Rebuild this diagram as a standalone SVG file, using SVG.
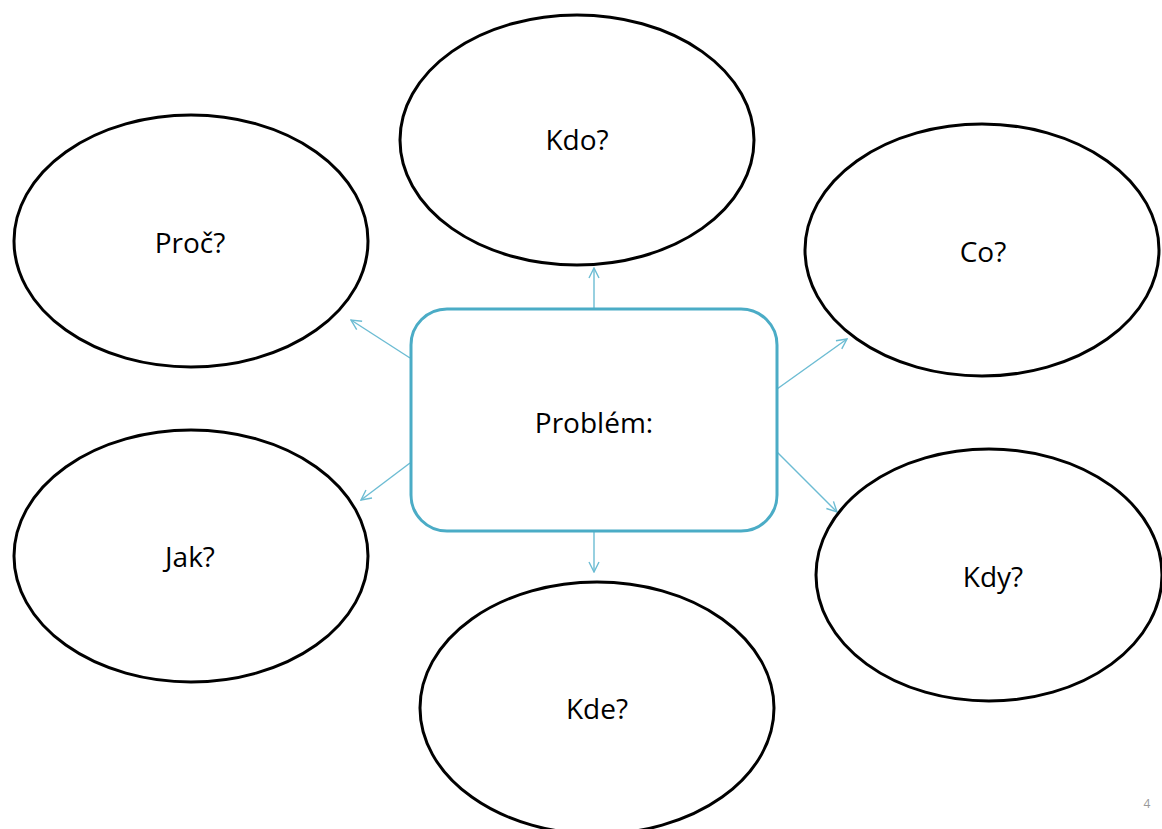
<svg xmlns="http://www.w3.org/2000/svg" width="1162" height="829" viewBox="0 0 1162 829">
<defs>
<style>
.oval{fill:#fff;stroke:#000;stroke-width:3}
.lbl{font-family:"Open Sans","Liberation Sans",sans-serif;font-size:28px;fill:#000;text-anchor:middle}
.con{stroke:#6CBCD3;stroke-width:1.4;fill:none;marker-end:url(#ah)}
</style>
<marker id="ah" viewBox="0 0 12 12" refX="11" refY="6" markerWidth="12" markerHeight="12" markerUnits="userSpaceOnUse" orient="auto">
<path d="M1,1 L11,6 L1,11" fill="none" stroke="#6CBCD3" stroke-width="1.4"/>
</marker>
</defs>
<rect width="1162" height="829" fill="#fff"/>
<g id="connectors">
<line class="con" x1="594" y1="308" x2="594" y2="268"/>
<line class="con" x1="594" y1="532" x2="594" y2="572"/>
<line class="con" x1="410" y1="358" x2="351" y2="320"/>
<line class="con" x1="410" y1="463" x2="361" y2="500"/>
<line class="con" x1="777" y1="389" x2="847" y2="339"/>
<line class="con" x1="777" y1="452" x2="837" y2="512"/>
</g>
<g id="kdo"><ellipse class="oval" cx="577" cy="140" rx="177" ry="125"/><text class="lbl" x="577" y="150">Kdo?</text></g>
<g id="proc"><ellipse class="oval" cx="191" cy="241" rx="177" ry="126"/><text class="lbl" x="190" y="253">Proč?</text></g>
<g id="co"><ellipse class="oval" cx="982" cy="250" rx="177" ry="126"/><text class="lbl" x="983" y="262">Co?</text></g>
<g id="jak"><ellipse class="oval" cx="191" cy="556" rx="177" ry="126"/><text class="lbl" x="190" y="567">Jak?</text></g>
<g id="kdy"><ellipse class="oval" cx="989" cy="575" rx="173" ry="126"/><text class="lbl" x="993" y="587">Kdy?</text></g>
<g id="kde"><ellipse class="oval" cx="597" cy="708" rx="177" ry="126"/><text class="lbl" x="597" y="719">Kde?</text></g>
<g id="problem"><rect x="411" y="309" width="366" height="222" rx="36" ry="36" fill="#fff" stroke="#4BACC6" stroke-width="3"/><text class="lbl" x="594" y="433">Problém:</text></g>
<text x="1147" y="808" font-family="Open Sans,Liberation Sans,sans-serif" font-size="12" fill="#999" text-anchor="middle">4</text>
</svg>
